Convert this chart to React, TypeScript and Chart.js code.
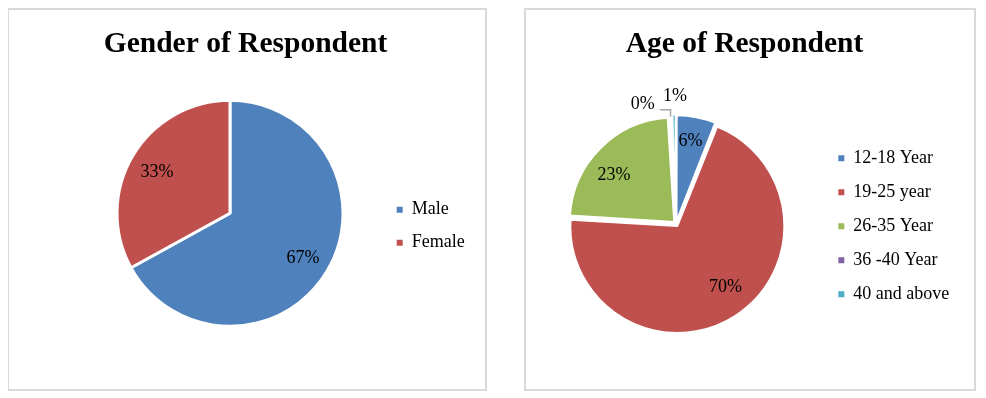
import React, { useEffect, useRef } from 'react';
import { Chart, registerables, DoughnutController } from 'chart.js';

Chart.register(...registerables);

// ---------- data ----------
const genderLabels = ['Male', 'Female'];
const genderValues = [67, 33];
const genderColors = ['#4f81bd', '#c0504d'];

const ageLabels = ['12-18 Year', '19-25 year', '26-35 Year', '36 -40 Year', '40 and above'];
const ageValues = [6, 70, 23, 0.4, 0.6];
const ageColors = ['#4f81bd', '#c0504d', '#9bbb59', '#8064a2', '#4bacc6'];

const SERIF = '"Liberation Serif", "Times New Roman", serif';

// ---------- percentage labels plugin ----------
const sliceLabels = {
  id: 'sliceLabels',
  afterDatasetsDraw(chart: any, _args: any, opts: any) {
    const ctx = chart.ctx;
    const meta = chart.getDatasetMeta(0);
    const ds = chart.data.datasets[0];
    const total = ds.data.reduce((a: number, b: number) => a + b, 0);
    const shift = opts.textShift || 0;
    ctx.save();
    ctx.font = `${opts.size}px ${SERIF}`;
    ctx.fillStyle = '#000';
    ctx.textAlign = 'center';
    ctx.textBaseline = 'middle';
    meta.data.forEach((arc: any, i: number) => {
      const p = arc.getProps(['x', 'y', 'startAngle', 'endAngle', 'outerRadius'], true);
      const mid = (p.startAngle + p.endAngle) / 2;
      const off = (arc.options.offset || 0) / 4;
      const text = Math.round((ds.data[i] / total) * 100) + '%';
      const pl = opts.placement[i] || { r: 0.75 };
      if (pl.outside) {
        const circ = p.endAngle - p.startAngle;
        const fix = 1 - Math.sin(Math.min(Math.PI, circ));
        const rr = p.outerRadius + off + off * fix;
        const ax = p.x + Math.cos(mid) * rr;
        const ay = p.y + Math.sin(mid) * rr;
        const lx = ax + pl.dx;
        const ly = ay + pl.dy;
        ctx.fillText(text, lx, ly + shift);
        if (pl.leader) {
          const tw = ctx.measureText(text).width;
          const yl = ly + 7.7;
          ctx.strokeStyle = '#a6a6a6';
          ctx.lineWidth = 1.5;
          ctx.beginPath();
          ctx.moveTo(lx + tw / 2 + 5, yl);
          ctx.lineTo(ax, yl);
          ctx.lineTo(ax, ay + 2);
          ctx.stroke();
        }
      } else {
        const a = mid + ((pl.a || 0) * Math.PI) / 180;
        const rr = off + p.outerRadius * pl.r;
        ctx.fillText(text, p.x + Math.cos(a) * rr, p.y + Math.sin(a) * rr + shift);
      }
    });
    ctx.restore();
  },
};

// lets the legend text run past the (deliberately narrow) legend box without clipping
const legendNoClip = {
  id: 'legendNoClip',
  afterLayout(chart: any) {
    const lg = chart.legend;
    if (lg) {
      lg.right = chart.width;
      lg.width = lg.right - lg.left;
    }
  },
};

const legendLabels = (pad: number) => ({
  color: '#000',
  font: { family: SERIF, size: 18 },
  boxWidth: 6,
  boxHeight: 6,
  padding: pad,
  generateLabels: (chart: any) =>
    (DoughnutController as any).overrides.plugins.legend.labels
      .generateLabels(chart)
      .map((l: any) => ({ ...l, lineWidth: 0 })),
});

const titleOpts = (text: string) => ({
  display: true,
  text,
  color: '#000',
  font: { family: SERIF, size: 29.5, weight: 'bold' as const, lineHeight: 1 },
  padding: { top: 19.25, bottom: 0 },
});

function buildGender(): any {
  return {
    type: 'pie',
    data: {
      labels: genderLabels,
      datasets: [
        {
          data: genderValues,
          backgroundColor: genderColors,
          borderColor: '#ffffff',
          borderWidth: 3,
          radius: 113,
        },
      ],
    },
    options: {
      animation: false,
      responsive: false,
      devicePixelRatio: 1,
      events: [],
      layout: { padding: { left: 69.3, right: 72.3, top: 0, bottom: 21.15 } },
      plugins: {
        title: titleOpts('Gender of Respondent'),
        tooltip: { enabled: false },
        legend: {
          position: 'right',
          maxWidth: 31,
          title: { display: true, text: '', font: { size: 10, lineHeight: 1 }, padding: { top: 64.55, bottom: 0 } },
          labels: legendLabels(15),
        },
        sliceLabels: { size: 18, textShift: 2, placement: [{ r: 0.75 }, { r: 0.75 }] },
      },
    },
    plugins: [sliceLabels, legendNoClip],
  };
}

function buildAge(): any {
  return {
    type: 'pie',
    data: {
      labels: ageLabels,
      datasets: [
        {
          data: ageValues,
          backgroundColor: ageColors,
          borderColor: '#ffffff',
          borderWidth: 2,
          offset: 10,
          radius: 104.5,
        },
      ],
    },
    options: {
      animation: false,
      responsive: false,
      devicePixelRatio: 1,
      events: [],
      layout: { padding: { left: 3.7, right: 14.7, top: 0, bottom: -7.25 } },
      plugins: {
        title: titleOpts('Age of Respondent'),
        tooltip: { enabled: false },
        legend: {
          position: 'right',
          title: { display: true, text: '', font: { size: 10, lineHeight: 1 }, padding: { top: 36.35, bottom: 0 } },
          labels: legendLabels(16),
        },
        sliceLabels: {
          size: 18,
          textShift: 2,
          placement: [
            { r: 0.8, a: -1.1 },
            { r: 0.733, a: -6.3 },
            { r: 0.744, a: -5.5 },
            { outside: true, dx: -27.7, dy: -12.5, leader: true },
            { outside: true, dx: 1, dy: -20.15 },
          ],
        },
      },
    },
    plugins: [sliceLabels],
  };
}

function PieBox({ left, width, build }: { left: number; width: number; build: () => any }) {
  const ref = useRef<HTMLCanvasElement>(null);
  useEffect(() => {
    const chart = new Chart(ref.current as HTMLCanvasElement, build());
    return () => chart.destroy();
  }, []);
  return (
    <div
      style={{
        position: 'absolute',
        left,
        top: 8,
        width,
        height: 379,
        border: '2px solid #d9d9d9',
        background: '#ffffff',
      }}
    >
      <canvas ref={ref} width={width} height={379} style={{ display: 'block', width, height: 379 }} />
    </div>
  );
}

export default function App() {
  return (
    <div style={{ position: 'relative', width: 986, height: 398 }}>
      <div style={{ position: 'absolute', left: -8, top: -8 }}>
        <PieBox left={7} width={476} build={buildGender} />
        <PieBox left={524} width={448} build={buildAge} />
      </div>
    </div>
  );
}
